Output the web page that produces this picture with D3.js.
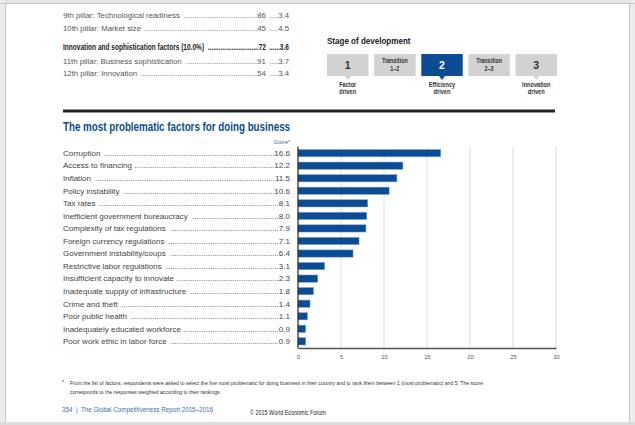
<!DOCTYPE html>
<html><head><meta charset="utf-8">
<script src="https://cdn.jsdelivr.net/npm/d3@7"></script>
<style>
body{margin:0;padding:0;background:#fff;}
svg{display:block;}
text{font-family:"Liberation Sans",Arial,Helvetica,sans-serif;}
</style>
</head><body>
<svg id="chart" width="635" height="425"></svg>
<script>
// ---- data ----
const factors = ["Corruption","Access to financing","Inflation","Policy instability","Tax rates",
  "Inefficient government bureaucracy","Complexity of tax regulations","Foreign currency regulations",
  "Government instability/coups","Restrictive labor regulations","Insufficient capacity to innovate",
  "Inadequate supply of infrastructure","Crime and theft","Poor public health",
  "Inadequately educated workforce","Poor work ethic in labor force"];
const scores = [16.6,12.2,11.5,10.6,8.1,8.0,7.9,7.1,6.4,3.1,2.3,1.8,1.4,1.1,0.9,0.9];
const xTicks = [0,5,10,15,20,25,30];

const pillarLabels = ["9th pillar: Technological readiness","10th pillar: Market size",
  "Innovation and sophistication factors (10.0%)","11th pillar: Business sophistication","12th pillar: Innovation"];
const pillarRanks = ["86","45","72","91","54"];
const pillarScores = ["3.4","4.5","3.6","3.7","3.4"];
const pillarBold = [false,false,true,false,false];

const stages = [["1"],["Transition","1–2"],["2"],["Transition","2–3"],["3"]];
const stageActive = 2;
const stageLabels = [["Factor","driven"],null,["Efficiency","driven"],null,["Innovation","driven"]];

const BLUE = "#0b4c94";
const svg = d3.select("#chart");

// condense a text element horizontally by a factor (narrow-font look)
function condense(sel, f){
  const w = sel.node().getComputedTextLength();
  if(f && f !== 1) sel.attr("textLength", w*f).attr("lengthAdjust","spacingAndGlyphs");
  return w*(f||1);
}

// ---- page frame ----
svg.append("rect").attr("x",0).attr("y",0).attr("width",635).attr("height",425).attr("fill","#fff");
svg.append("rect").attr("x",0).attr("y",0).attr("width",635).attr("height",3).attr("fill","#e6e6e6");
svg.append("rect").attr("x",0).attr("y",0).attr("width",5).attr("height",425).attr("fill","#ececec");
svg.append("line").attr("x1",5.5).attr("x2",5.5).attr("y1",3).attr("y2",425).attr("stroke","#c8c8c8");
svg.append("rect").attr("x",630).attr("y",0).attr("width",5).attr("height",425).attr("fill","#ececec");
svg.append("line").attr("x1",629.5).attr("x2",629.5).attr("y1",3).attr("y2",425).attr("stroke","#c8c8c8");
svg.append("line").attr("x1",0).attr("x2",635).attr("y1",3.5).attr("y2",3.5).attr("stroke","#c8c8c8");
svg.append("rect").attr("x",0).attr("y",422).attr("width",635).attr("height",3).attr("fill","#dcdcdc");

// measure natural text width for a style
function measure(str, st){
  const p = svg.append("text").attr("font-size",st.size).attr("font-weight",st.weight||"normal")
    .attr("xml:space","preserve").text(str);
  const w = p.node().getComputedTextLength(); p.remove(); return w;
}
// one text element per row: label, then dot leaders to each right-aligned column
function leaderRow(parent, x0, y, st, label, cols){
  const f = st.cond || 1;
  const t = parent.append("text")
    .attr("transform",`translate(${x0},${y}) scale(${f},1)`)
    .attr("font-size",st.size).attr("font-weight",st.weight||"normal").attr("fill",st.color);
  const dw = measure("..........", st)/10;
  t.append("tspan").attr("x",0).text(label);
  let cursor = measure(label+" ", st);
  cols.forEach(c=>{
    const localEnd = (c.end - x0)/f;
    const wv = measure(c.value, st);
    const start = localEnd - wv;
    const n = Math.max(0, Math.floor((start - cursor - (c.gap||0))/dw));
    t.append("tspan").attr("x", start - n*dw).text(".".repeat(n) + c.value);
    cursor = localEnd;
  });
}

// ---- top pillar table ----
const topG = svg.append("g");
const pillarY = [18,31,50,64,76];
pillarLabels.forEach((lab,i)=>{
  const st = pillarBold[i] ? {size:8.2,color:"#222",weight:"bold",cond:0.8}
                           : {size:7.8,color:"#555"};
  leaderRow(topG, 63, pillarY[i], st, lab,
    [{value: pillarRanks[i], end: 266}, {value: pillarScores[i], end: 289, gap: 2}]);
});

// ---- stage of development ----
const sd = svg.append("g");
condense(sd.append("text").attr("x",327).attr("y",44).text("Stage of development")
  .attr("font-size",9.8).attr("font-weight","bold").attr("fill","#222"), 0.82);
const boxX = d3.scaleBand().domain(d3.range(stages.length)).range([327,557]).paddingInner(0.12);
stages.forEach((s,i)=>{
  const x = boxX(i), w = boxX.bandwidth(), y0 = 54, h = 22;
  const active = i===stageActive;
  sd.append("rect").attr("x",x).attr("y",y0).attr("width",w).attr("height",h)
    .attr("fill", active?BLUE:"#d2d2d2");
  if(stageLabels[i]){
    const cx = x+w/2;
    sd.append("path").attr("d",`M${cx-3},${y0+h} L${cx+3},${y0+h} L${cx},${y0+h+4} Z`)
      .attr("fill", active?BLUE:"#d2d2d2");
    stageLabels[i].forEach((l,j)=>{
      condense(sd.append("text").attr("x",cx).attr("y",87+j*7).attr("text-anchor","middle").text(l)
        .attr("font-size",6.6).attr("font-weight","bold").attr("fill","#333"), 0.85);
    });
  }
  if(s.length===1){
    sd.append("text").attr("x",x+w/2).attr("y",y0+15).attr("text-anchor","middle").text(s[0])
      .attr("font-size",10.5).attr("font-weight","bold").attr("fill",active?"#fff":"#333");
  } else {
    s.forEach((l,j)=>{
      condense(sd.append("text").attr("x",x+w/2).attr("y",y0+9+j*8).attr("text-anchor","middle").text(l)
        .attr("font-size",6.6).attr("font-weight","bold").attr("fill","#333"), 0.82);
    });
  }
});

// thick rule
svg.append("rect").attr("x",63).attr("y",109.5).attr("width",492).attr("height",3).attr("fill","#222");

// ---- title ----
svg.append("text").attr("x",63).attr("y",131)
  .text("The most problematic factors for doing business")
  .attr("font-size",12.2).attr("font-weight","bold").attr("fill",BLUE)
  .attr("textLength",227).attr("lengthAdjust","spacingAndGlyphs");
svg.append("text").attr("x",290).attr("y",144).attr("text-anchor","end").text("Score*")
  .attr("font-size",5.4).attr("fill","#3b6fb0");

// ---- bar chart ----
const x = d3.scaleLinear().domain([0,30]).range([298,556]);
const y = d3.scaleBand().domain(factors).range([147,347.5]).paddingInner(0.42).paddingOuter(0.2);

const chart = svg.append("g");
chart.selectAll("line.grid").data(xTicks.slice(1)).join("line").attr("class","grid")
  .attr("x1",d=>x(d)).attr("x2",d=>x(d)).attr("y1",147).attr("y2",348)
  .attr("stroke","#dcdcdc").attr("stroke-width",1);

const lblStyle = {size:8,color:"#444"};
factors.forEach((f,i)=>{
  const cy = y(f)+y.bandwidth()/2+2.8;
  leaderRow(chart, 63, cy, lblStyle, f, [{value: scores[i].toFixed(1), end: 290}]);
});

chart.selectAll("rect.bar").data(factors).join("rect").attr("class","bar")
  .attr("x",x(0)).attr("y",d=>y(d)).attr("height",y.bandwidth())
  .attr("width",(d,i)=>x(scores[i])-x(0)).attr("fill",BLUE)
  .attr("stroke","#7ea3cf").attr("stroke-width",0.5);

const xAxis = d3.axisBottom(x).tickValues(xTicks).tickSize(0).tickPadding(7);
const ax = chart.append("g").attr("transform","translate(0,348)").call(xAxis);
ax.select(".domain").attr("stroke","#555").attr("stroke-width",1.5);
ax.selectAll("text").attr("font-size",5.8).attr("fill","#555")
  .attr("font-family","'Liberation Sans',Arial,sans-serif");
chart.append("line").attr("x1",x(0)).attr("x2",x(0)).attr("y1",146.5).attr("y2",348.5)
  .attr("stroke","#222").attr("stroke-width",1.2);

// ---- footnote ----
const fn = svg.append("g");
fn.append("text").attr("x",62).attr("y",384).text("*").attr("font-size",5.5).attr("fill","#333");
fn.append("text").attr("x",70).attr("y",385)
  .text("From the list of factors, respondents were asked to select the five most problematic for doing business in their country and to rank them between 1 (most problematic) and 5. The score")
  .attr("font-size",5.6).attr("fill","#333").attr("textLength",413).attr("lengthAdjust","spacingAndGlyphs");
fn.append("text").attr("x",70).attr("y",393.5)
  .text("corresponds to the responses weighted according to their rankings.")
  .attr("font-size",5.6).attr("fill","#333").attr("textLength",151).attr("lengthAdjust","spacingAndGlyphs");

svg.append("text").attr("x",62).attr("y",412).text("354  |  The Global Competitiveness Report 2015–2016")
  .attr("font-size",6.6).attr("fill","#3b6fb0").attr("xml:space","preserve")
  .attr("textLength",151).attr("lengthAdjust","spacingAndGlyphs");
condense(svg.append("text").attr("x",250).attr("y",415).text("© 2015 World Economic Forum")
  .attr("font-size",6.4).attr("fill","#222"), 0.85);
</script>
</body></html>
